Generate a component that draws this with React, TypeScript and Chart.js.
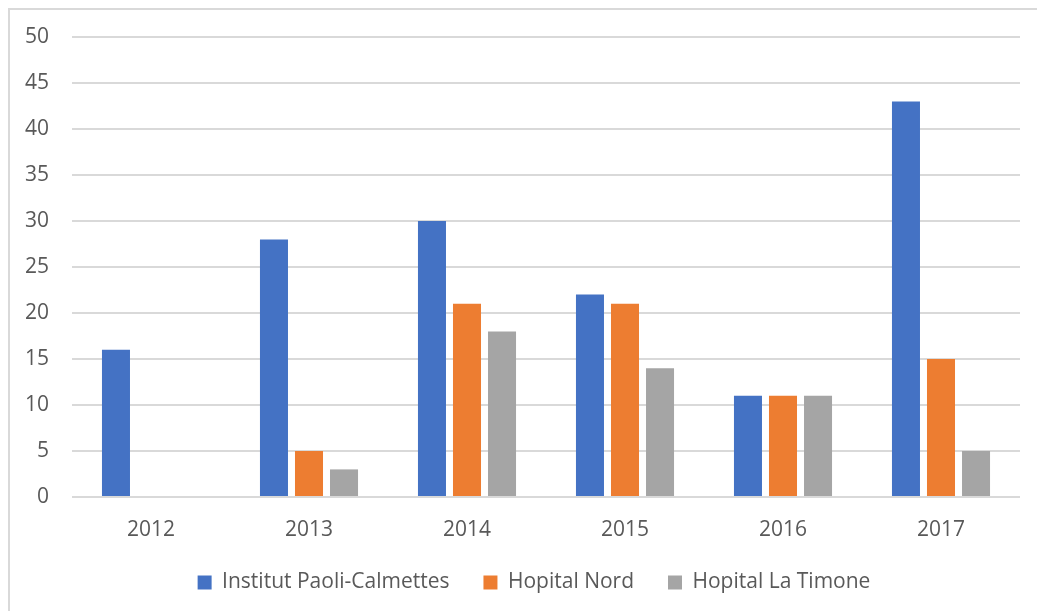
import React, { useEffect, useRef } from "react";
import { Chart, registerables } from "chart.js";

Chart.register(...registerables);

const categories = ["2012", "2013", "2014", "2015", "2016", "2017"];
const seriesNames = ["Institut Paoli-Calmettes", "Hopital Nord", "Hopital La Timone"];
const paoliValues = [16, 28, 30, 22, 11, 43];
const nordValues = [0, 5, 21, 21, 11, 15];
const timoneValues = [0, 3, 18, 14, 11, 5];
const seriesColors = ["#4472C4", "#ED7D31", "#A5A5A5"];
const yTickStep = 5;
const yMax = 50;

const FONT = "'Open Sans', 'Noto Sans', sans-serif";
const TEXT = "#595959";
const FS = 21;

const legendShift = {
  id: "legendShift",
  afterLayout(chart: any) {
    const l = chart.legend;
    if (l) {
      l.left += 19;
      l.right += 19;
    }
  },
};

export default function App() {
  const ref = useRef<HTMLCanvasElement | null>(null);

  useEffect(() => {
    if (!ref.current) return;
    const values = [paoliValues, nordValues, timoneValues];
    const chart = new Chart(ref.current, {
      type: "bar",
      data: {
        labels: categories,
        datasets: seriesNames.map((name, i) => ({
          label: name,
          data: values[i],
          backgroundColor: seriesColors[i],
          borderWidth: 0,
          categoryPercentage: 0.665,
          barPercentage: 0.8,
        })),
      },
      plugins: [legendShift],
      options: {
        responsive: true,
        maintainAspectRatio: false,
        animation: false,
        layout: { padding: { left: 0, right: 17, top: 27, bottom: 8 } },
        plugins: {
          tooltip: { enabled: false },
          legend: {
            position: "bottom",
            labels: {
              color: TEXT,
              font: { family: FONT, size: FS },
              boxWidth: 14,
              boxHeight: 14,
              padding: 34,
            },
          },
        },
        scales: {
          x: {
            grid: { display: false },
            border: { display: false },
            ticks: { color: TEXT, font: { family: FONT, size: FS }, padding: 12 },
            afterFit: (scale: any) => {
              scale.height = 41;
            },
          },
          y: {
            min: 0,
            max: yMax,
            ticks: {
              stepSize: yTickStep,
              color: TEXT,
              font: { family: FONT, size: FS },
              padding: 23,
            },
            grid: { color: "#D9D9D9", lineWidth: 2, drawTicks: false },
            border: { display: false },
            afterFit: (scale: any) => {
              scale.width = 62;
              scale.paddingTop = 0;
              scale.paddingBottom = 0;
            },
          },
        },
      },
    });
    return () => chart.destroy();
  }, []);

  return (
    <div
      style={{
        position: "fixed",
        left: 8,
        top: 8,
        width: 1029,
        height: 603,
        boxSizing: "border-box",
        borderLeft: "2px solid #D9D9D9",
        borderTop: "2px solid #D9D9D9",
        background: "#fff",
      }}
    >
      <div style={{ position: "relative", width: 1027, height: 601 }}>
        <canvas ref={ref} />
      </div>
    </div>
  );
}
